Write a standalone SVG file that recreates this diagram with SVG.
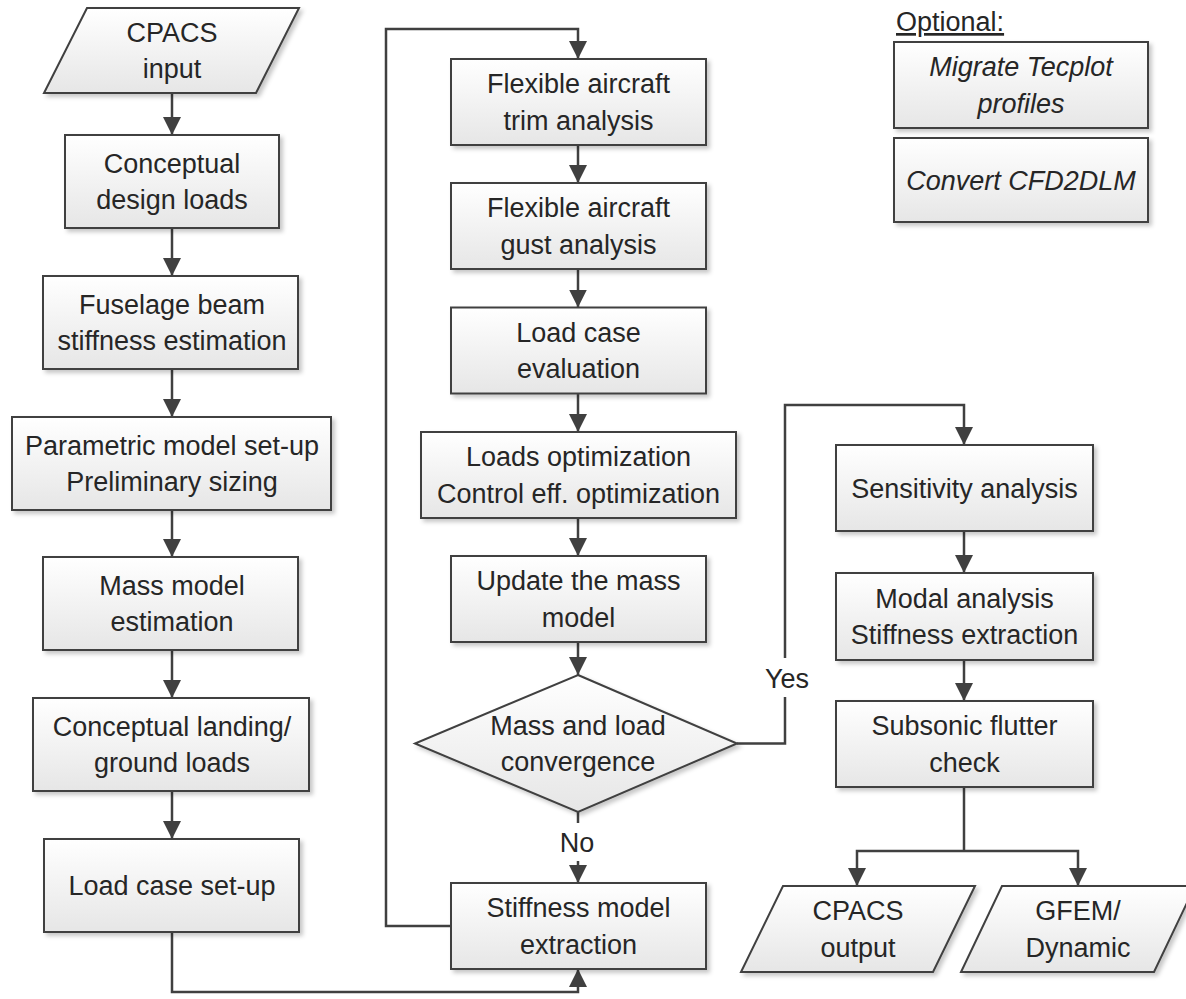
<svg xmlns="http://www.w3.org/2000/svg" width="1186" height="999" viewBox="0 0 1186 999">
<style>
.box{fill:url(#g);stroke:#404040;stroke-width:2;filter:url(#sh);}
.t{font-family:"Liberation Sans",Arial,sans-serif;font-size:27px;fill:#262626;text-anchor:middle;}
.i{font-style:italic;}
.c{fill:none;stroke:#404040;stroke-width:2.5;}
.a{marker-end:url(#ah);}
</style>
<defs>
<linearGradient id="g" x1="0" y1="0" x2="0" y2="1">
<stop offset="0" stop-color="#ffffff"/>
<stop offset="1" stop-color="#e6e6e6"/>
</linearGradient>
<filter id="sh" x="-10%" y="-10%" width="125%" height="130%">
<feDropShadow dx="3" dy="3" stdDeviation="2" flood-color="#000" flood-opacity="0.22"/>
</filter>
<marker id="ah" markerUnits="userSpaceOnUse" markerWidth="20" markerHeight="20" refX="18" refY="10" orient="auto">
<path d="M0,1 L18,10 L0,19 Z" fill="#404040"/>
</marker>
</defs>
<rect width="1186" height="999" fill="#ffffff"/>

<g id="connectors">
<path class="c a" d="M172,93 V135"/>
<path class="c a" d="M172,228 V276"/>
<path class="c a" d="M172,369 V417"/>
<path class="c a" d="M172,510 V557"/>
<path class="c a" d="M172,650 V698"/>
<path class="c a" d="M172,791 V839"/>
<path class="c a" d="M172,932 V992 H578 V969"/>
<path class="c a" d="M451,926 H386 V29 H578 V59"/>
<path class="c a" d="M578,145 V183"/>
<path class="c a" d="M578,269 V307.5"/>
<path class="c a" d="M578,393.5 V432"/>
<path class="c a" d="M578,518 V556"/>
<path class="c a" d="M578,642 V675"/>
<path class="c" d="M578,812 V823"/>
<path class="c a" d="M578,861 V883"/>
<path class="c" d="M737,743.5 H785 V697"/>
<path class="c a" d="M785,658 V405 H964 V445"/>
<path class="c a" d="M964,531 V573"/>
<path class="c a" d="M964,660 V701"/>
<path class="c" d="M964,787 V851"/>
<path class="c a" d="M964,851 H857 V886"/>
<path class="c a" d="M964,851 H1078 V886"/>
<text class="t" x="787" y="687.5">Yes</text>
<text class="t" x="577" y="851.5">No</text>
</g>

<g id="cpacs-input">
<polygon class="box" points="87,8 299,8 256,93 44,93"/>
<text class="t" x="172" y="41.75">CPACS</text>
<text class="t" x="172" y="78.25">input</text>
</g>
<g id="conceptual-design-loads">
<rect class="box" x="65" y="135" width="214" height="93"/>
<text class="t" x="172" y="172.75">Conceptual</text>
<text class="t" x="172" y="209.25">design loads</text>
</g>
<g id="fuselage-beam">
<rect class="box" x="43" y="276" width="255" height="93"/>
<text class="t" x="172" y="313.75">Fuselage beam</text>
<text class="t" x="172" y="350.25">stiffness estimation</text>
</g>
<g id="parametric-model">
<rect class="box" x="12" y="417" width="319" height="93"/>
<text class="t" x="172" y="454.75">Parametric model set-up</text>
<text class="t" x="172" y="491.25">Preliminary sizing</text>
</g>
<g id="mass-model">
<rect class="box" x="43" y="557" width="255" height="93"/>
<text class="t" x="172" y="594.75">Mass model</text>
<text class="t" x="172" y="631.25">estimation</text>
</g>
<g id="landing-loads">
<rect class="box" x="33" y="698" width="276" height="93"/>
<text class="t" x="172" y="735.75">Conceptual landing/</text>
<text class="t" x="172" y="772.25">ground loads</text>
</g>
<g id="load-case-setup">
<rect class="box" x="44" y="839" width="255" height="93"/>
<text class="t" x="172" y="895">Load case set-up</text>
</g>

<g id="trim-analysis">
<rect class="box" x="451" y="59" width="255" height="86"/>
<text class="t" x="578.5" y="93.25">Flexible aircraft</text>
<text class="t" x="578.5" y="129.75">trim analysis</text>
</g>
<g id="gust-analysis">
<rect class="box" x="451" y="183" width="255" height="86"/>
<text class="t" x="578.5" y="217.25">Flexible aircraft</text>
<text class="t" x="578.5" y="253.75">gust analysis</text>
</g>
<g id="load-case-evaluation">
<rect class="box" x="451" y="307.5" width="255" height="86"/>
<text class="t" x="578.5" y="341.75">Load case</text>
<text class="t" x="578.5" y="378.25">evaluation</text>
</g>
<g id="loads-optimization">
<rect class="box" x="421" y="432" width="315" height="86"/>
<text class="t" x="578.5" y="466.25">Loads optimization</text>
<text class="t" x="578.5" y="502.75">Control eff. optimization</text>
</g>
<g id="update-mass-model">
<rect class="box" x="451" y="556" width="255" height="86"/>
<text class="t" x="578.5" y="590.25">Update the mass</text>
<text class="t" x="578.5" y="626.75">model</text>
</g>
<g id="convergence">
<polygon class="box" points="578,675 737,743.5 578,812 415,743.5"/>
<text class="t" x="578" y="734.75">Mass and load</text>
<text class="t" x="578" y="771.25">convergence</text>
</g>
<g id="stiffness-model-extraction">
<rect class="box" x="451" y="883" width="255" height="86"/>
<text class="t" x="578.5" y="917.25">Stiffness model</text>
<text class="t" x="578.5" y="953.75">extraction</text>
</g>

<g id="sensitivity-analysis">
<rect class="box" x="836" y="445" width="257" height="86"/>
<text class="t" x="964.5" y="497.5">Sensitivity analysis</text>
</g>
<g id="modal-analysis">
<rect class="box" x="836" y="573" width="257" height="87"/>
<text class="t" x="964.5" y="607.75">Modal analysis</text>
<text class="t" x="964.5" y="644.25">Stiffness extraction</text>
</g>
<g id="flutter-check">
<rect class="box" x="836" y="701" width="257" height="86"/>
<text class="t" x="964.5" y="735.25">Subsonic flutter</text>
<text class="t" x="964.5" y="771.75">check</text>
</g>
<g id="cpacs-output">
<polygon class="box" points="783,886 975,886 933,972 741,972"/>
<text class="t" x="858" y="920.25">CPACS</text>
<text class="t" x="858" y="956.75">output</text>
</g>
<g id="gfem-dynamic">
<polygon class="box" points="1002,886 1195,886 1154,972 961,972"/>
<text class="t" x="1078" y="920.25">GFEM/</text>
<text class="t" x="1078" y="956.75">Dynamic</text>
</g>

<g id="optional">
<text class="t" x="896" y="31" style="text-anchor:start;text-decoration:underline">Optional:</text>
</g>
<g id="migrate-tecplot">
<rect class="box" x="894" y="42" width="254" height="86"/>
<text class="t i" x="1021" y="76.25">Migrate Tecplot</text>
<text class="t i" x="1021" y="112.75">profiles</text>
</g>
<g id="convert-cfd2dlm">
<rect class="box" x="894" y="138" width="254" height="84"/>
<text class="t i" x="1021" y="189.5">Convert CFD2DLM</text>
</g>
</svg>
